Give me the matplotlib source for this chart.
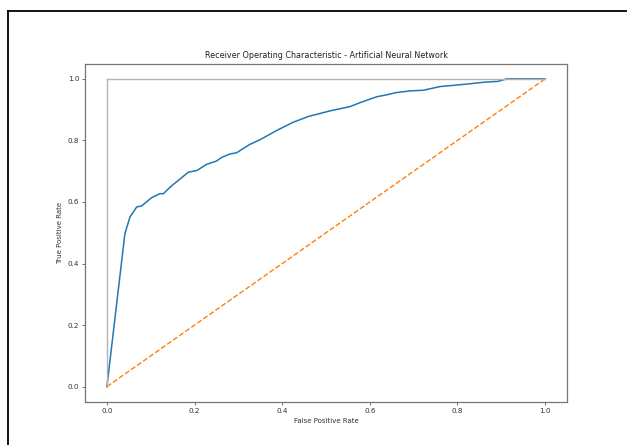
import matplotlib
matplotlib.use("Agg")
import matplotlib.pyplot as plt
from matplotlib.lines import Line2D

plt.rcParams['font.family'] = ['DejaVu Sans']

# ROC curve
fpr = [0.0, 0.041, 0.0525, 0.068, 0.079, 0.102, 0.121, 0.129, 0.144, 0.167, 0.186, 0.205,
       0.227, 0.250, 0.262, 0.281, 0.296, 0.326, 0.349, 0.387, 0.425, 0.460, 0.509, 0.555,
       0.578, 0.616, 0.638, 0.658, 0.692, 0.722, 0.760, 0.821, 0.859, 0.893, 0.912, 1.0]
tpr = [0.0, 0.497, 0.551, 0.584, 0.587, 0.614, 0.627, 0.627, 0.648, 0.675, 0.697, 0.702,
       0.722, 0.733, 0.745, 0.756, 0.760, 0.787, 0.802, 0.832, 0.859, 0.878, 0.896, 0.910,
       0.923, 0.942, 0.948, 0.955, 0.961, 0.963, 0.975, 0.983, 0.989, 0.992, 1.0, 1.0]
chance = [0, 1]
title = 'Receiver Operating Characteristic - Artificial Neural Network'

fig = plt.figure(figsize=(6.27, 4.45), dpi=100)
ax = fig.add_axes([0.1356, 0.0966, 0.7687, 0.7607])

ax.plot(fpr, tpr, color='#1f77b4', lw=1.1)
ax.plot(chance, ls='--', color='#ff7f0e', lw=1.0)
ax.plot([0, 0], [1, 0], c='.7', lw=1.0)
ax.plot([1, 1], c='.7', lw=1.0)

ax.set_title(title, fontsize=5.8, pad=4, color='#222222')
ax.set_xlabel('False Positive Rate', fontsize=5.0, color='#333333', labelpad=3)
ax.set_ylabel('True Positive Rate', fontsize=5.0, color='#333333', labelpad=3)
ax.set_xticks([0.0, 0.2, 0.4, 0.6, 0.8, 1.0])
ax.set_yticks([0.0, 0.2, 0.4, 0.6, 0.8, 1.0])
ax.tick_params(labelsize=5.2, labelcolor='#333333', length=2.2, width=0.6, color='#555555', pad=2)
for s in ax.spines.values():
    s.set_color('#777777')
    s.set_linewidth(0.9)

# screenshot frame
fig.add_artist(Line2D([0.012, 1.0], [0.9764, 0.9764], color='black', lw=1.3))
fig.add_artist(Line2D([0.012, 0.012], [0.0, 0.9764], color='black', lw=1.3))

fig.savefig('out.png', dpi=100)
